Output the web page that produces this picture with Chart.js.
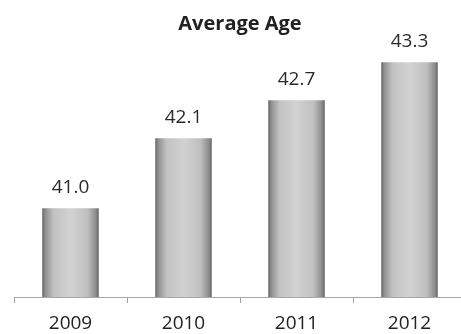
<!DOCTYPE html>
<html>
<head>
<meta charset="utf-8">
<script src="https://cdn.jsdelivr.net/npm/chart.js@4/dist/chart.umd.min.js"></script>
<style>
  html, body { margin: 0; padding: 0; background: #fff; overflow: hidden; }
  #wrap { position: relative; width: 470px; height: 344px; }
</style>
</head>
<body>
<div id="wrap"><canvas id="c"></canvas></div>
<script>
// Average age per year
const years = ['2009', '2010', '2011', '2012'];
const averageAge = [41.0, 42.1, 42.7, 43.3];
const chartTitle = 'Average Age';

const BAR_FRACTION = 0.5;

// Horizontal grey gradient so each bar reads like a rounded column
function barGradient(ctx) {
  const chart = ctx.chart;
  const xScale = chart.scales.x;
  if (!xScale || !chart.chartArea) return '#bdbdbd';
  const cx = xScale.getPixelForValue(ctx.dataIndex);
  const half = (xScale.width / years.length) * BAR_FRACTION / 2;
  const g = chart.ctx.createLinearGradient(cx - half, 0, cx + half, 0);
  g.addColorStop(0.00, '#646464');
  g.addColorStop(0.05, '#8e8e8e');
  g.addColorStop(0.20, '#c2c2c2');
  g.addColorStop(0.50, '#d2d2d2');
  g.addColorStop(0.80, '#c0c0c0');
  g.addColorStop(0.95, '#8c8c8c');
  g.addColorStop(1.00, '#626262');
  return g;
}

// Value text above each bar
const valueLabels = {
  id: 'valueLabels',
  afterDatasetsDraw(chart) {
    const ctx = chart.ctx;
    const meta = chart.getDatasetMeta(0);
    ctx.save();
    ctx.font = '19px "Open Sans", sans-serif';
    ctx.fillStyle = '#2a2a2a';
    ctx.textAlign = 'center';
    ctx.textBaseline = 'middle';
    meta.data.forEach((bar, i) => {
      ctx.fillText(averageAge[i].toFixed(1), bar.x, bar.y - 21);
    });
    ctx.restore();
  }
};

new Chart(document.getElementById('c'), {
  type: 'bar',
  data: {
    labels: years,
    datasets: [{
      data: averageAge,
      backgroundColor: barGradient,
      borderWidth: 0,
      barPercentage: 1,
      categoryPercentage: BAR_FRACTION
    }]
  },
  options: {
    responsive: true,
    maintainAspectRatio: false,
    animation: false,
    layout: { padding: { left: 14, right: 4, top: 0, bottom: 0 } },
    plugins: {
      legend: { display: false },
      tooltip: { enabled: false },
      title: {
        display: true,
        text: chartTitle,
        color: '#222222',
        font: { family: '"Open Sans", sans-serif', size: 20, weight: 'bold' },
        padding: { top: 12, bottom: 9 }
      }
    },
    scales: {
      x: {
        offset: true,
        grid: {
          display: true,
          offset: true,
          drawOnChartArea: false,
          drawTicks: true,
          tickLength: 6,
          color: '#a0a0a0'
        },
        border: { display: true, color: '#a8a8a8', width: 1 },
        ticks: {
          color: '#222222',
          padding: 11,
          font: { family: '"Open Sans", sans-serif', size: 19, lineHeight: 1 }
        }
      },
      y: {
        display: false,
        min: 39.6,
        max: 43.57
      }
    }
  },
  plugins: [valueLabels]
});
</script>
</body>
</html>
